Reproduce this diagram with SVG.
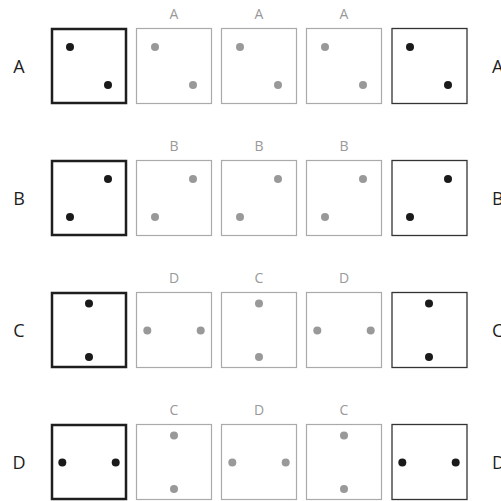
<svg xmlns="http://www.w3.org/2000/svg" width="501" height="501" viewBox="0 0 501 501">
<style>
  .bg{fill:#fff}
  .start{fill:#fff;stroke:#1e1e1e;stroke-width:2.5}
  .mid{fill:#fff;stroke:#aaa;stroke-width:1.2}
  .end{fill:#fff;stroke:#333;stroke-width:1.3}
  .dk{fill:#1a1a1a}
  .gy{fill:#999}
  .row{font-family:"Open Sans","Noto Sans","Liberation Sans",sans-serif;font-size:18px;fill:#1e1e1e}
  .top{font-family:"Open Sans","Noto Sans","Liberation Sans",sans-serif;font-size:14px;fill:#999;text-anchor:middle}
</style>
<rect class="bg" x="0" y="0" width="501" height="501"/>

<!-- Row A -->
<g id="rowA">
  <text class="row" x="19" y="73" text-anchor="middle">A</text>
  <text class="row" x="492" y="73">A</text>
  <g id="A1"><rect class="start" x="52" y="29" width="74" height="74"/><circle class="dk" cx="70" cy="47" r="4"/><circle class="dk" cx="108" cy="85" r="4"/></g>
  <g id="A2"><text class="top" x="174" y="18.5">A</text><rect class="mid" x="136.5" y="28.5" width="75" height="75"/><circle class="gy" cx="155" cy="47" r="4"/><circle class="gy" cx="193" cy="85" r="4"/></g>
  <g id="A3"><text class="top" x="259" y="18.5">A</text><rect class="mid" x="221.5" y="28.5" width="75" height="75"/><circle class="gy" cx="240" cy="47" r="4"/><circle class="gy" cx="278" cy="85" r="4"/></g>
  <g id="A4"><text class="top" x="344" y="18.5">A</text><rect class="mid" x="306.5" y="28.5" width="75" height="75"/><circle class="gy" cx="325" cy="47" r="4"/><circle class="gy" cx="363" cy="85" r="4"/></g>
  <g id="A5"><rect class="end" x="392" y="28.5" width="75" height="75"/><circle class="dk" cx="410" cy="47" r="4"/><circle class="dk" cx="448" cy="85" r="4"/></g>
</g>

<!-- Row B -->
<g id="rowB">
  <text class="row" x="19" y="205" text-anchor="middle">B</text>
  <text class="row" x="492" y="205">B</text>
  <g id="B1"><rect class="start" x="52" y="161" width="74" height="74"/><circle class="dk" cx="108" cy="179" r="4"/><circle class="dk" cx="70" cy="217" r="4"/></g>
  <g id="B2"><text class="top" x="174" y="150.5">B</text><rect class="mid" x="136.5" y="160.5" width="75" height="75"/><circle class="gy" cx="193" cy="179" r="4"/><circle class="gy" cx="155" cy="217" r="4"/></g>
  <g id="B3"><text class="top" x="259" y="150.5">B</text><rect class="mid" x="221.5" y="160.5" width="75" height="75"/><circle class="gy" cx="278" cy="179" r="4"/><circle class="gy" cx="240" cy="217" r="4"/></g>
  <g id="B4"><text class="top" x="344" y="150.5">B</text><rect class="mid" x="306.5" y="160.5" width="75" height="75"/><circle class="gy" cx="363" cy="179" r="4"/><circle class="gy" cx="325" cy="217" r="4"/></g>
  <g id="B5"><rect class="end" x="392" y="160.5" width="75" height="75"/><circle class="dk" cx="448" cy="179" r="4"/><circle class="dk" cx="410" cy="217" r="4"/></g>
</g>

<!-- Row C -->
<g id="rowC">
  <text class="row" x="19" y="337" text-anchor="middle">C</text>
  <text class="row" x="492" y="337">C</text>
  <g id="C1"><rect class="start" x="52" y="293" width="74" height="74"/><circle class="dk" cx="89" cy="303.5" r="4"/><circle class="dk" cx="89" cy="357" r="4"/></g>
  <g id="C2"><text class="top" x="174" y="282.5">D</text><rect class="mid" x="136.5" y="292.5" width="75" height="75"/><circle class="gy" cx="147.3" cy="330.5" r="4"/><circle class="gy" cx="200.7" cy="330.5" r="4"/></g>
  <g id="C3"><text class="top" x="259" y="282.5">C</text><rect class="mid" x="221.5" y="292.5" width="75" height="75"/><circle class="gy" cx="259" cy="303.5" r="4"/><circle class="gy" cx="259" cy="357" r="4"/></g>
  <g id="C4"><text class="top" x="344" y="282.5">D</text><rect class="mid" x="306.5" y="292.5" width="75" height="75"/><circle class="gy" cx="317.3" cy="330.5" r="4"/><circle class="gy" cx="370.7" cy="330.5" r="4"/></g>
  <g id="C5"><rect class="end" x="392" y="292.5" width="75" height="75"/><circle class="dk" cx="429" cy="303.5" r="4"/><circle class="dk" cx="429" cy="357" r="4"/></g>
</g>

<!-- Row D -->
<g id="rowD">
  <text class="row" x="19" y="469" text-anchor="middle">D</text>
  <text class="row" x="492" y="469">D</text>
  <g id="D1"><rect class="start" x="52" y="425" width="74" height="74"/><circle class="dk" cx="62.3" cy="462.5" r="4"/><circle class="dk" cx="115.7" cy="462.5" r="4"/></g>
  <g id="D2"><text class="top" x="174" y="414.5">C</text><rect class="mid" x="136.5" y="424.5" width="75" height="75"/><circle class="gy" cx="174" cy="435.5" r="4"/><circle class="gy" cx="174" cy="489" r="4"/></g>
  <g id="D3"><text class="top" x="259" y="414.5">D</text><rect class="mid" x="221.5" y="424.5" width="75" height="75"/><circle class="gy" cx="232.3" cy="462.5" r="4"/><circle class="gy" cx="285.7" cy="462.5" r="4"/></g>
  <g id="D4"><text class="top" x="344" y="414.5">C</text><rect class="mid" x="306.5" y="424.5" width="75" height="75"/><circle class="gy" cx="344" cy="435.5" r="4"/><circle class="gy" cx="344" cy="489" r="4"/></g>
  <g id="D5"><rect class="end" x="392" y="424.5" width="75" height="75"/><circle class="dk" cx="402.3" cy="462.5" r="4"/><circle class="dk" cx="455.7" cy="462.5" r="4"/></g>
</g>
</svg>
